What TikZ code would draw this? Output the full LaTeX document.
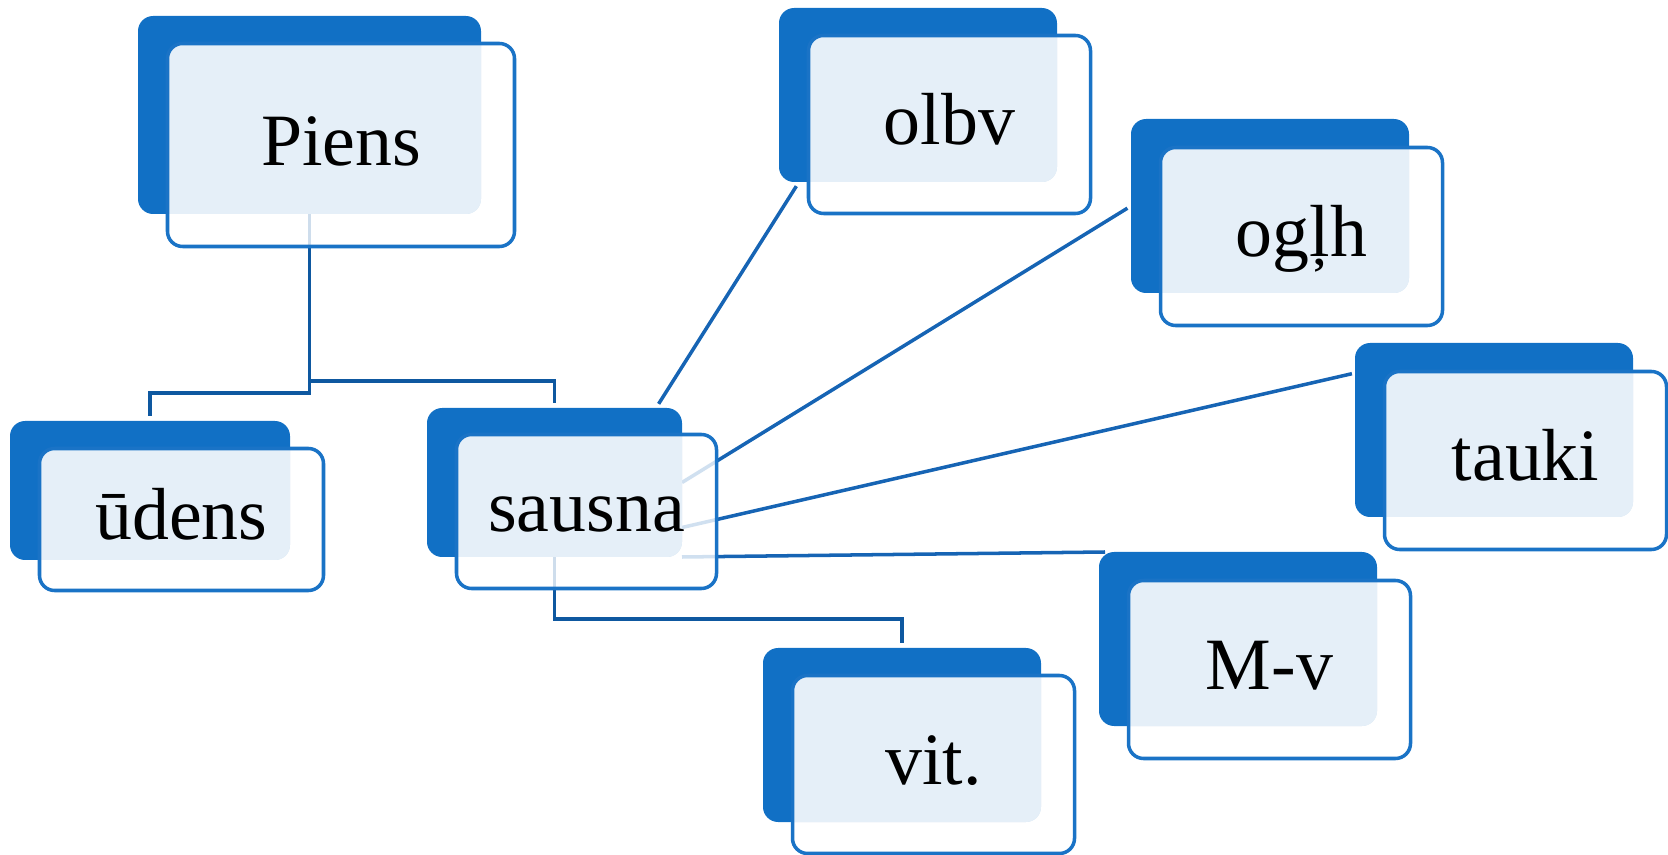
\documentclass[tikz,border=0pt]{standalone}
\usepackage{fontspec}
\setmainfont{Liberation Serif}
\usepackage{tikz}
\usetikzlibrary{positioning}
\definecolor{tiledark}{RGB}{17,112,197}
\definecolor{tilelight}{RGB}{229,239,248}
\definecolor{tileline}{RGB}{26,115,198}
\definecolor{linkblue}{RGB}{22,100,180}
\definecolor{treeblue}{RGB}{14,88,160}
\pgfdeclarelayer{background}
\pgfsetlayers{background,main}

\begin{document}
\begin{tikzpicture}[
  every node/.style={outer sep=0pt, inner sep=0pt},
  back/.style={fill=tiledark, rounded corners=4.3pt, anchor=north west},
  front/.style={draw=tileline, line width=1pt, rounded corners=4.3pt,
    fill=white, fill opacity=0.8, text opacity=1, anchor=north west,
    font=\fontsize{21}{25}\selectfont, text height=4.1mm, text depth=0pt,
    path picture={
      \clip[rounded corners=4.3pt] (#1.south west) rectangle (#1.north east);
      \fill[tilelight, fill opacity=1] (path picture bounding box.south west)
        rectangle (path picture bounding box.north east);}},
  small/.style={minimum width=2.82cm, minimum height=1.78cm},
  smallback/.style={minimum width=2.78cm, minimum height=1.74cm},
  tree/.style={draw=treeblue, line width=1pt, shorten >=1.3pt},
  link/.style={draw=linkblue, line width=1pt}
]
\useasboundingbox (0,0) rectangle (16.68,-8.55);

\node[back, minimum width=3.43cm, minimum height=1.98cm] (piensB) at (1.38,-0.16) {};
\node[front=piensB, minimum width=3.47cm, minimum height=2.03cm] (piens)
  at ([shift={(0.295,-0.275)}]piensB.north west) {Piens};

\node[back, minimum width=2.80cm, minimum height=1.39cm] (udensB) at (0.10,-4.21) {};
\node[front=udensB, minimum width=2.84cm, minimum height=1.42cm] (udens)
  at ([shift={(0.295,-0.275)}]udensB.north west) {ūdens};

\node[back, minimum width=2.55cm, minimum height=1.49cm] (sausnaB) at (4.27,-4.08) {};
\node[front=sausnaB, minimum width=2.60cm, minimum height=1.54cm] (sausna)
  at ([shift={(0.295,-0.265)}]sausnaB.north west) {sausna};

\node[back, smallback] (olbvB) at (7.79,-0.08) {};
\node[front=olbvB, small] (olbv) at ([shift={(0.295,-0.275)}]olbvB.north west) {olbv};

\node[back, smallback] (oglhB) at (11.31,-1.19) {};
\node[front=oglhB, small] (oglh) at ([shift={(0.295,-0.285)}]oglhB.north west) {ogļh};

\node[back, smallback] (taukiB) at (13.55,-3.43) {};
\node[front=taukiB, small] (tauki) at ([shift={(0.295,-0.285)}]taukiB.north west) {tauki};

\node[back, smallback] (mvB) at (10.99,-5.52) {};
\node[front=mvB, small] (mv) at ([shift={(0.295,-0.285)}]mvB.north west) {M-v};

\node[back, smallback] (vitB) at (7.63,-6.48) {};
\node[front=vitB, small] (vit) at ([shift={(0.295,-0.275)}]vitB.north west) {vit.};

\begin{pgfonlayer}{background}
\draw[tree] (piensB.south) -- ([yshift=-1.79cm]piensB.south) -| (udensB.north);
\draw[tree] (piensB.south) -- ([yshift=-1.67cm]piensB.south) -| (sausnaB.north);
\draw[tree] (sausnaB.south) -- ([yshift=-0.62cm]sausnaB.south) -| (vitB.north);

\draw[link, shorten <=1.4pt, shorten >=1.4pt] ([xshift=-2.6mm]sausnaB.north east) -- ([xshift=2mm]olbvB.south west);
\draw[link, shorten >=1.2pt] (sausnaB.east) -- (oglhB.west);
\draw[link, shorten >=0.9pt] ([yshift=-4.5mm]sausnaB.east) -- ([yshift=-3mm]taukiB.north west);
\draw[link] (sausnaB.south east) -- ([xshift=0.6mm]mvB.north west);
\end{pgfonlayer}
\end{tikzpicture}
\end{document}
